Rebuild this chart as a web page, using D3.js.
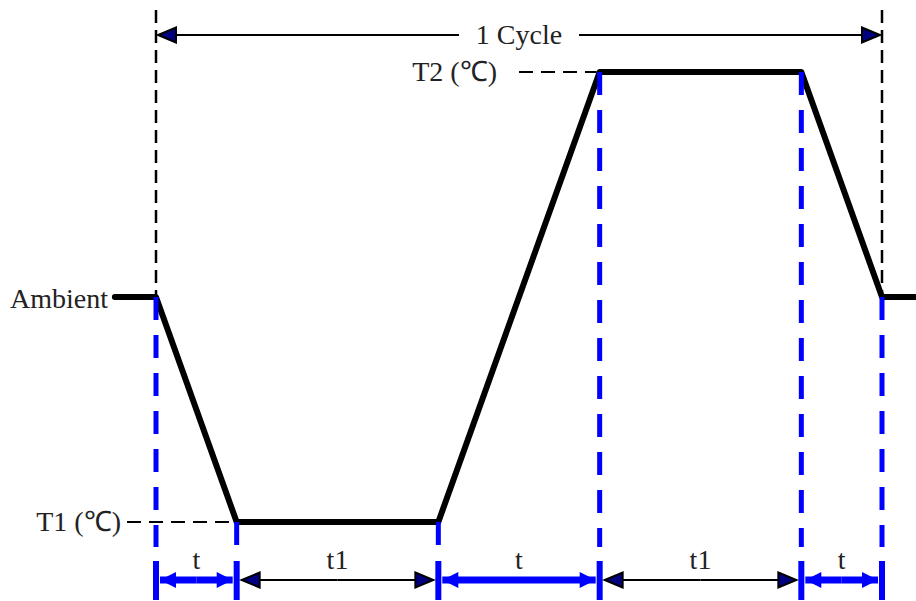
<!DOCTYPE html>
<html><head><meta charset="utf-8">
<script src="https://cdn.jsdelivr.net/npm/d3@7"></script>
<style>html,body{margin:0;padding:0;background:#fff;}svg{display:block;}</style>
</head><body>
<svg id="chart" width="916" height="601"></svg>
<script>
// ---- data ----
const levelNames = ["T1 (℃)", "Ambient", "T2 (℃)"];
const levelValues = [0, 0.5, 1];
const profileTimes = [-0.51, 0, 1, 3.5, 5.5, 8, 9, 9.43];
const profileLevels = [0.5, 0.5, 0, 0, 1, 1, 0.5, 0.5];
const markerTimes = [0, 1, 3.5, 5.5, 8, 9];
const segmentLabels = ["t", "t1", "t", "t1", "t"];
const segmentKinds = ["ramp", "soak", "ramp", "soak", "ramp"];
const cycleLabel = "1 Cycle";
const cycleStart = 0, cycleEnd = 9;

// ---- scales ----
const svg = d3.select("#chart");
const x = d3.scaleLinear().domain([0, 9]).range([156, 882]);
const y = d3.scaleLinear().domain([0, 1]).range([522, 72]);
const font = "'Liberation Serif','Times New Roman',serif";
const fs = 28;
const navy = "#000080", blue = "#0000ff";

// arrowhead markers
const defs = svg.append("defs");
function marker(id, fill, stroke, w, h) {
  defs.append("marker").attr("id", id)
    .attr("viewBox", `0 0 ${w} ${h}`).attr("refX", w).attr("refY", h / 2)
    .attr("markerWidth", w).attr("markerHeight", h)
    .attr("markerUnits", "userSpaceOnUse")
    .attr("orient", "auto")
    .attr("overflow", "visible")
    .append("path").attr("d", `M0,0 L${w},${h/2} L0,${h} Z`)
    .attr("fill", fill).attr("stroke", stroke).attr("stroke-width", stroke === "none" ? 0 : 2)
    .attr("stroke-linejoin", "miter");
}
marker("navyHead", navy, "#000", 18, 15);
marker("blueHead", blue, "none", 16, 16);

// ---- cycle boundaries (black dashed verticals) ----
[cycleStart, cycleEnd].forEach(t => {
  svg.append("line").attr("x1", x(t)).attr("x2", x(t))
    .attr("y1", 10).attr("y2", y(0.5))
    .attr("stroke", "#000").attr("stroke-width", 2.5).attr("stroke-dasharray", "13,7");
});

// ---- top cycle arrow ----
const cycY = 35;
const cycMid = (x(cycleStart) + x(cycleEnd)) / 2;
svg.append("line").attr("x1", cycMid - 60).attr("x2", x(cycleStart) + 2)
  .attr("y1", cycY).attr("y2", cycY).attr("stroke", "#000").attr("stroke-width", 2)
  .attr("marker-end", "url(#navyHead)");
svg.append("line").attr("x1", cycMid + 60).attr("x2", x(cycleEnd) - 2)
  .attr("y1", cycY).attr("y2", cycY).attr("stroke", "#000").attr("stroke-width", 2)
  .attr("marker-end", "url(#navyHead)");
svg.append("text").attr("x", cycMid).attr("y", cycY + 9).attr("text-anchor", "middle")
  .attr("font-family", font).attr("font-size", fs).attr("fill", "#222").text(cycleLabel);

// ---- level guide lines & labels ----
// T2
svg.append("line").attr("x1", 519).attr("x2", x(5.5) - 3).attr("y1", y(1)).attr("y2", y(1))
  .attr("stroke", "#000").attr("stroke-width", 2).attr("stroke-dasharray", "14,8");
svg.append("text").attr("x", 497).attr("y", y(1) + 9).attr("text-anchor", "end")
  .attr("font-family", font).attr("font-size", fs).attr("fill", "#222").text(levelNames[2]);
// T1
svg.append("line").attr("x1", 127).attr("x2", x(1) - 2).attr("y1", y(0)).attr("y2", y(0))
  .attr("stroke", "#000").attr("stroke-width", 2).attr("stroke-dasharray", "14,8");
svg.append("text").attr("x", 121).attr("y", y(0) + 9).attr("text-anchor", "end")
  .attr("font-family", font).attr("font-size", fs).attr("fill", "#222").text(levelNames[0]);
// Ambient
svg.append("text").attr("x", 108).attr("y", y(0.5) + 11).attr("text-anchor", "end")
  .attr("font-family", font).attr("font-size", fs).attr("fill", "#222").text(levelNames[1]);

// ---- temperature profile ----
const pts = profileTimes.map((t, i) => [t, profileLevels[i]]);
svg.append("path").datum(pts)
  .attr("d", d3.line().x(d => x(d[0])).y(d => y(d[1])))
  .attr("fill", "none").attr("stroke", "#000").attr("stroke-width", 6)
  .attr("stroke-linejoin", "round").attr("stroke-linecap", "round");

// ---- blue dashed markers ----
const levelAt = t => profileLevels[profileTimes.indexOf(t)];
markerTimes.forEach(t => {
  svg.append("line").attr("x1", x(t)).attr("x2", x(t))
    .attr("y1", y(levelAt(t))).attr("y2", 547)
    .attr("stroke", blue).attr("stroke-width", 5).attr("stroke-dasharray", "23,15");
  svg.append("line").attr("x1", x(t)).attr("x2", x(t))
    .attr("y1", 561).attr("y2", 600)
    .attr("stroke", blue).attr("stroke-width", 6);
});

// ---- segment arrows ----
const arrY = 580;
segmentLabels.forEach((lab, i) => {
  const a = x(markerTimes[i]), b = x(markerTimes[i + 1]);
  const ramp = segmentKinds[i] === "ramp";
  const mid = (a + b) / 2;
  const col = ramp ? blue : "#000", sw = ramp ? 7 : 2, head = ramp ? "blueHead" : "navyHead";
  const inset = ramp ? 4 : 5;
  svg.append("line").attr("x1", mid).attr("x2", a + inset).attr("y1", arrY).attr("y2", arrY)
    .attr("stroke", col).attr("stroke-width", sw).attr("marker-end", `url(#${head})`);
  svg.append("line").attr("x1", mid).attr("x2", b - inset).attr("y1", arrY).attr("y2", arrY)
    .attr("stroke", col).attr("stroke-width", sw).attr("marker-end", `url(#${head})`);
  svg.append("text").attr("x", mid).attr("y", 569).attr("text-anchor", "middle")
    .attr("font-family", font).attr("font-size", fs).attr("fill", "#222").text(lab);
});
</script>
</body></html>
